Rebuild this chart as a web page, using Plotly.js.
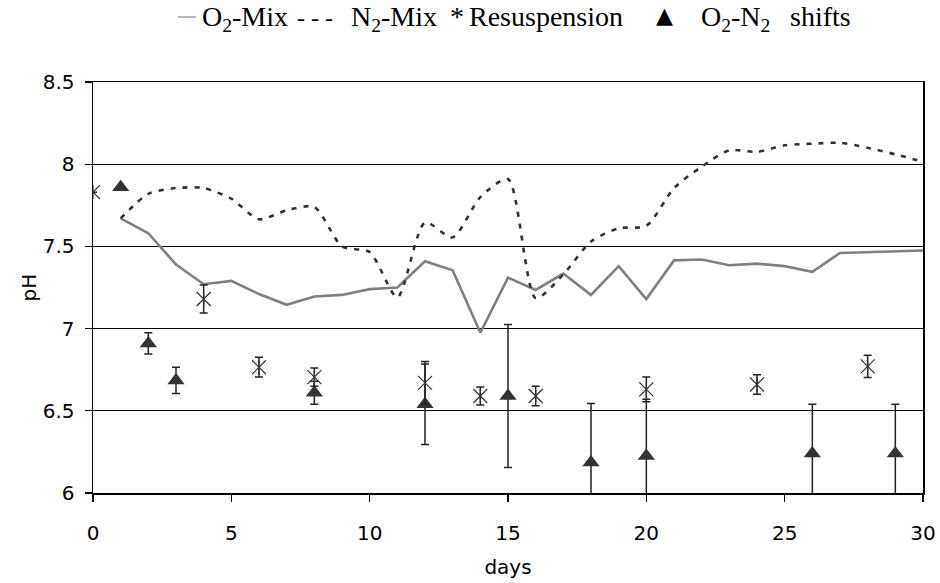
<!DOCTYPE html>
<html>
<head>
<meta charset="utf-8">
<script src="https://cdn.plot.ly/plotly-3.0.1.min.js"></script>
<style>
  html, body { margin: 0; padding: 0; background: #ffffff; }
  #chart { width: 940px; height: 583px; }
</style>
</head>
<body>
<div id="chart"></div>
<script>
// ---- data ----
const o2Days   = [1, 2, 3, 4, 5, 6, 7, 8, 9, 10, 11, 12, 13, 14, 15, 16, 17, 18, 19, 20, 21, 22, 23, 24, 25, 26, 27, 30];
const o2pH     = [7.67, 7.58, 7.39, 7.27, 7.29, 7.21, 7.145, 7.195, 7.205, 7.24, 7.25, 7.41, 7.355, 6.975, 7.31, 7.235, 7.335, 7.205, 7.38, 7.18, 7.415, 7.42, 7.385, 7.395, 7.38, 7.345, 7.46, 7.475];

const n2Days   = [1, 2, 3, 4, 5, 6, 7, 8, 9, 10, 11, 12, 13, 14, 15, 16, 17, 18, 19, 20, 21, 22, 23, 24, 25, 26, 27, 28, 29, 30];
const n2pH     = [7.67, 7.82, 7.855, 7.855, 7.79, 7.665, 7.72, 7.74, 7.5, 7.465, 7.19, 7.645, 7.555, 7.8, 7.91, 7.185, 7.33, 7.53, 7.61, 7.625, 7.855, 7.985, 8.085, 8.075, 8.115, 8.125, 8.13, 8.1, 8.06, 8.015];

const resDays  = [0, 4, 6, 8, 12, 14, 16, 20, 24, 28];
const resPH    = [7.83, 7.18, 6.765, 6.705, 6.67, 6.59, 6.59, 6.63, 6.66, 6.77];
const resErr   = [null, 0.085, 0.06, 0.055, 0.13, 0.055, 0.06, 0.075, 0.06, 0.068];

const shiftDays = [1, 2, 3, 8, 12, 15, 18, 20, 26, 29];
const shiftPH   = [7.86, 6.91, 6.685, 6.61, 6.54, 6.59, 6.185, 6.225, 6.24, 6.24];
const shiftErr  = [null, 0.065, 0.08, 0.07, 0.245, 0.435, 0.36, 0.345, 0.30, 0.30];

const xTicks = [0, 5, 10, 15, 20, 25, 30];
const yTicks = [6, 6.5, 7, 7.5, 8, 8.5];

// legend text pieces (drawn as a text key above the plot, as in the reference)
const legendTexts = ['O<sub>2</sub>-Mix', '- - -', 'N<sub>2</sub>-Mix', '*', 'Resuspension', 'O<sub>2</sub>-N<sub>2</sub>', 'shifts'];
const legendLeftPx = [201, 296, 350, 449, 468, 700, 789];
const legendSizes  = [28, 24, 28, 28, 28, 28, 28];

// ---- traces ----
const traces = [
  {
    name: 'O2-Mix', x: o2Days, y: o2pH, type: 'scatter', mode: 'lines',
    line: { color: '#808080', width: 2.6 }, showlegend: false
  },
  {
    name: 'N2-Mix', x: n2Days, y: n2pH, type: 'scatter', mode: 'lines',
    line: { color: '#333333', width: 2.6, dash: '5px,7px', shape: 'spline', smoothing: 0.7 },
    showlegend: false
  },
  {
    name: 'O2-N2 shifts', x: shiftDays, y: shiftPH, type: 'scatter', mode: 'markers',
    marker: { symbol: 'triangle-up', size: 15, color: '#333333' },
    error_y: { type: 'data', array: shiftErr, visible: true, color: '#222222', thickness: 1.5, width: 4 },
    showlegend: false
  },
  {
    name: 'Resuspension', x: resDays, y: resPH, type: 'scatter', mode: 'markers',
    marker: { symbol: 'x-thin-open', size: 14, color: '#333333', line: { color: '#333333', width: 1.2 } },
    error_y: { type: 'data', array: resErr, visible: true, color: '#222222', thickness: 1.5, width: 4 },
    showlegend: false
  },
  {
    name: 'Resuspension', x: resDays, y: resPH, type: 'scatter', mode: 'markers',
    marker: { symbol: 'line-ns-open', size: 10, color: '#333333', line: { color: '#333333', width: 1.2 } },
    showlegend: false, hoverinfo: 'skip'
  }
];

const axisFont = { family: 'DejaVu Sans, Arial, sans-serif', size: 20, color: '#000000' };

// plot area geometry in px (used only to place the text key in paper units)
const plotL = 93, plotW = 830, plotT = 82, plotH = 411;
const pxToPaperX = px => (px - plotL) / plotW;
const pxToPaperY = py => 1 + (plotT - py) / plotH;

const annotations = legendTexts.map((t, i) => ({
  xref: 'paper', yref: 'paper', x: pxToPaperX(legendLeftPx[i]),
  y: pxToPaperY(legendSizes[i] === 28 ? 0 : 4),
  xanchor: 'left', yanchor: 'top', showarrow: false, borderpad: 0,
  font: { family: 'Liberation Serif, Times New Roman, serif', size: legendSizes[i], color: '#000000' },
  text: t
}));
annotations.push({
  xref: 'paper', yref: 'paper', x: pxToPaperX(664), y: pxToPaperY(16),
  xanchor: 'center', yanchor: 'middle', showarrow: false, borderpad: 0,
  font: { family: 'DejaVu Sans, sans-serif', size: 22, color: '#000000' }, text: '▲'
});

const layout = {
  width: 940, height: 583,
  margin: { l: 93, r: 17, t: 82, b: 90, pad: 0 },
  paper_bgcolor: '#ffffff', plot_bgcolor: '#ffffff',
  showlegend: false,
  xaxis: {
    range: [0, 30], tickmode: 'array', tickvals: xTicks, ticktext: xTicks.map(String),
    showline: true, linecolor: '#000000', linewidth: 1.5, mirror: true,
    ticks: 'outside', ticklen: 7, tickwidth: 1.2, tickcolor: '#000000',
    showgrid: false, zeroline: false,
    tickfont: axisFont, ticklabelstandoff: 14,
    title: { text: 'days', font: axisFont, standoff: 16 }
  },
  yaxis: {
    range: [6, 8.5], tickmode: 'array', tickvals: yTicks, ticktext: yTicks.map(String),
    showline: true, linecolor: '#000000', linewidth: 1.5, mirror: true,
    ticks: 'outside', ticklen: 7, tickwidth: 1.2, tickcolor: '#000000',
    showgrid: true, gridcolor: '#000000', gridwidth: 1, zeroline: false,
    tickfont: axisFont, ticklabelstandoff: 6,
    title: { text: 'pH', font: axisFont, standoff: 0 }
  },
  shapes: [
    {
      type: 'line', xref: 'paper', yref: 'paper',
      x0: pxToPaperX(178), x1: pxToPaperX(196), y0: pxToPaperY(17), y1: pxToPaperY(17),
      line: { color: '#a0a0a0', width: 1.5 }
    }
  ],
  annotations: annotations
};

Plotly.newPlot('chart', traces, layout, { displayModeBar: false, staticPlot: true });
</script>
</body>
</html>
